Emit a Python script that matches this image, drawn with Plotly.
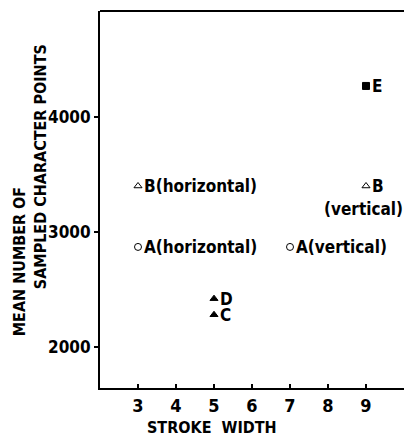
import plotly.graph_objects as go

# Data
stroke_width = [9, 3, 9, 3, 7, 5, 5]
mean_points = [4270, 3400, 3400, 2870, 2870, 2420, 2280]
labels = ["E", "B(horizontal)", "B", "A(horizontal)", "A(vertical)", "D", "C"]
symbols = ["square", "triangle-up-open", "triangle-up-open", "circle-open",
           "circle-open", "triangle-up", "triangle-up"]
sublabels = ["", "", "(vertical)", "", "", "", ""]

x_ticks = [3, 4, 5, 6, 7, 8, 9]
y_ticks = [2000, 3000, 4000]

FONT = "DejaVu Sans Condensed, Liberation Sans Narrow, Arial Narrow, sans-serif"

fig = go.Figure()
fig.add_trace(go.Scatter(
    x=stroke_width, y=mean_points, mode="markers",
    marker=dict(symbol=symbols, size=7, color="black",
                line=dict(color="black", width=1)),
    showlegend=False, hoverinfo="skip"))

annotations = []
for xv, yv, lab, sub in zip(stroke_width, mean_points, labels, sublabels):
    annotations.append(dict(x=xv, y=yv, xref="x", yref="y", text="<b>" + lab + "</b>",
                            showarrow=False, xanchor="left", yanchor="middle",
                            xshift=4, font=dict(family=FONT, size=17, color="black")))
    if sub:
        annotations.append(dict(x=xv, y=yv, xref="x", yref="y", text="<b>" + sub + "</b>",
                                showarrow=False, xanchor="center", yanchor="middle",
                                xshift=-3, yshift=-23,
                                font=dict(family=FONT, size=17, color="black")))

annotations += [
    dict(x=-0.266, y=0.334, xref="paper", yref="paper", text="<b>MEAN NUMBER OF</b>",
         textangle=-90, showarrow=False, xanchor="center", yanchor="middle",
         font=dict(family=FONT, size=16, color="black")),
    dict(x=-0.197, y=0.586, xref="paper", yref="paper", text="<b>SAMPLED CHARACTER POINTS</b>",
         textangle=-90, showarrow=False, xanchor="center", yanchor="middle",
         font=dict(family=FONT, size=16, color="black")),
    dict(x=0.368, y=-0.106, xref="paper", yref="paper", text="<b>STROKE  WIDTH</b>",
         showarrow=False, xanchor="center", yanchor="middle",
         font=dict(family=FONT, size=16, color="black")),
]

fig.update_layout(
    width=404, height=437,
    margin=dict(l=100, r=0, t=11, b=49),
    paper_bgcolor="white", plot_bgcolor="white",
    annotations=annotations,
    shapes=[dict(type="line", xref="paper", yref="paper", x0=0, x1=1, y0=1, y1=1,
                 line=dict(color="black", width=2))],
    font=dict(family=FONT, size=17, color="black"),
    xaxis=dict(range=[2, 10], tickvals=x_ticks, ticktext=["<b>%d</b>" % v for v in x_ticks],
               ticks="inside", ticklen=4, tickwidth=2, tickcolor="black",
               showline=True, linewidth=2, linecolor="black",
               showgrid=False, zeroline=False,
               tickfont=dict(family=FONT, size=18, color="black")),
    yaxis=dict(range=[1643, 4922], tickvals=y_ticks, ticktext=["<b>%d</b>" % v for v in y_ticks],
               ticks="outside", ticklen=4, tickwidth=2, tickcolor="black",
               showline=True, linewidth=2, linecolor="black",
               showgrid=False, zeroline=False,
               tickfont=dict(family=FONT, size=17, color="black")),
)

fig.write_html("out.html", config={"displayModeBar": False},
               post_script="document.body.style.margin='0';document.body.style.overflow='hidden';")
